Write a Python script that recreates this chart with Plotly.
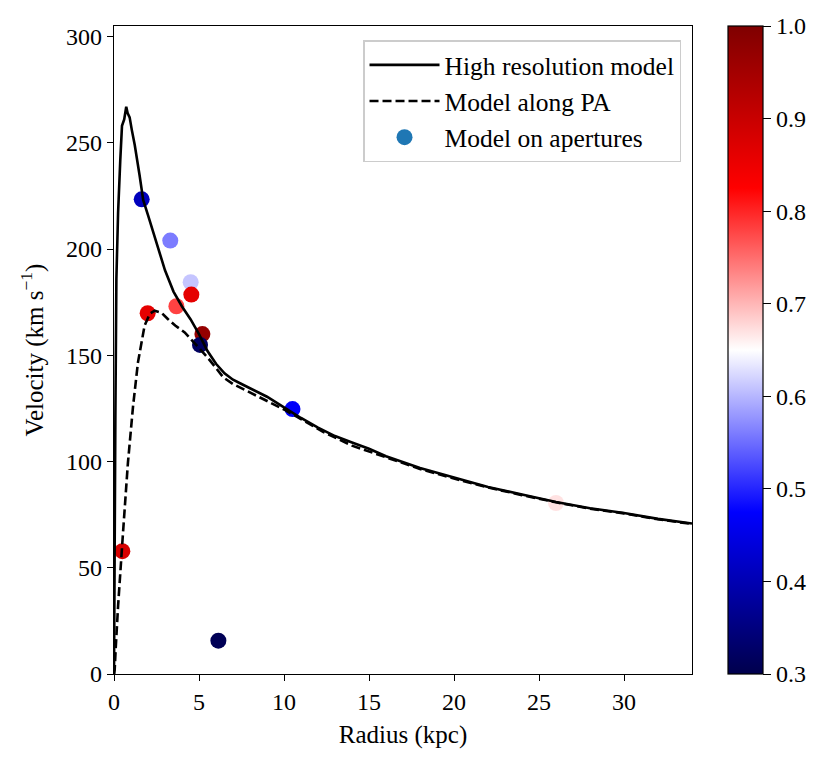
import plotly.graph_objects as go

# High resolution model (solid)
hires_r = [0, 0.03, 0.08, 0.14, 0.24, 0.37, 0.47, 0.6, 0.72, 0.8, 0.92, 1.05,
           1.22, 1.5, 1.72, 2.0, 2.5, 3.0, 3.5, 4.0, 4.5, 5.0, 5.5, 6.0, 6.5,
           7.0, 7.5, 8.0, 9.0, 10.0, 11.0, 12.0, 13.0, 14.0, 15.0, 16.0, 18.0,
           20.0, 22.0, 24.0, 26.0, 28.0, 30.0, 32.0, 34.0]
hires_v = [0, 60, 120, 186, 217, 242, 258, 261, 267, 264, 262, 256,
           249, 235, 223, 216, 203, 190, 180, 173, 167, 160, 152, 146, 141.5,
           138.5, 136.5, 134.5, 130.5, 125.5, 120.5, 116, 112, 109, 106, 102.5, 97,
           92.5, 88, 84.5, 81, 78, 75.8, 73, 70.8]

# Model along PA (dashed)
pa_r = [0, 0.04, 0.1, 0.24, 0.53, 0.82, 1.12, 1.41, 1.8, 2.1, 2.39, 2.8, 3.18,
        3.6, 4.16, 4.6, 5.06, 5.5, 6.0, 6.43, 7.0, 7.41, 8.0, 9.37, 10.0, 11.0,
        12.3, 14.0, 16.0, 18.0, 20.0, 22.0, 24.0, 26.0, 28.0, 30.0, 32.0, 34.0]
pa_v = [0, 2, 12, 32, 66.5, 99.5, 126, 146.7, 164, 169.5, 171, 170, 167,
        164, 160.8, 157, 153, 149, 144, 139.6, 136.5, 134.9, 132.5, 127, 124.5, 120,
        114, 107.5, 101.9, 96.5, 92, 87.8, 84.2, 80.8, 77.8, 75.6, 72.8, 70.6]

# Model on apertures (points coloured by value)
ap_r = [0.49, 6.14, 1.63, 3.31, 4.51, 3.67, 4.55, 1.98, 5.2, 5.06, 10.5, 26.0]
ap_v = [57.8, 15.7, 223.4, 204, 184.4, 173.1, 178.6, 169.8, 160, 154.9, 124.7, 80.5]
ap_c = [0.88, 0.31, 0.41, 0.56, 0.61, 0.78, 0.86, 0.86, 0.97, 0.32, 0.47, 0.67]

cbar_ticks = [0.3, 0.4, 0.5, 0.6, 0.7, 0.8, 0.9, 1.0]

seismic = [[0.0, 'rgb(0,0,76)'], [0.25, 'rgb(0,0,255)'],
           [0.5, 'rgb(255,255,255)'], [0.75, 'rgb(255,0,0)'],
           [1.0, 'rgb(127,0,0)']]

font_main = 'Liberation Serif'

fig = go.Figure()

fig.add_trace(go.Scatter(
    x=ap_r, y=ap_v, mode='markers', showlegend=False,
    marker=dict(size=16, color=ap_c, colorscale=seismic, cmin=0.3, cmax=1.0,
                line=dict(width=0),
                colorbar=dict(x=(720 - 106) / 578, xanchor='left', xpad=0,
                              y=0.5, yanchor='middle', ypad=0, len=1,
                              thickness=35, outlinewidth=1.2,
                              outlinecolor='black', ticks='outside',
                              ticklen=8, tickwidth=1.2, tickcolor='black',
                              tickvals=cbar_ticks, tickformat='.1f',
                              tickprefix='\u00a0',
                              tickfont=dict(size=24, color='black')))
))

fig.add_trace(go.Scatter(
    x=hires_r, y=hires_v, mode='lines', name='High resolution model',
    line=dict(color='black', width=2.6)
))

fig.add_trace(go.Scatter(
    x=pa_r, y=pa_v, mode='lines', name='Model along PA',
    line=dict(color='black', width=2.6, dash='9px,4px')
))

# legend entry only
fig.add_trace(go.Scatter(
    x=[None], y=[None], mode='markers', name='Model on apertures',
    marker=dict(size=16, color='#1f77b4')
))

# page body has an 8px margin, so the figure is drawn 8px in from the corner
fig.update_layout(
    width=816, height=752,
    margin=dict(l=106, r=132, t=18, b=86),
    paper_bgcolor='white', plot_bgcolor='white',
    font=dict(family=font_main, size=24, color='black'),
    legend=dict(x=0.981, y=0.978, xanchor='right', yanchor='top',
                bordercolor='#cccccc', borderwidth=1.5,
                bgcolor='rgba(255,255,255,0.8)', itemwidth=70,
                font=dict(size=25.5)),
)

fig.update_xaxes(
    range=[0, 34], dtick=5, showgrid=False, zeroline=False,
    showline=True, linecolor='black', linewidth=1.2, mirror=True,
    ticks='outside', ticklen=6, tickwidth=1.2, tickcolor='black',
    title=dict(text='Radius (kpc)', standoff=11, font=dict(size=25))
)
fig.update_yaxes(
    range=[0, 305], dtick=50, showgrid=False, zeroline=False,
    showline=True, linecolor='black', linewidth=1.2, mirror=True,
    ticks='outside', ticklen=6, tickwidth=1.2, tickcolor='black',
    title=dict(text='Velocity (km s<sup>\u22121</sup>)', standoff=15,
               font=dict(size=25))
)

fig.write_html("out.html")
